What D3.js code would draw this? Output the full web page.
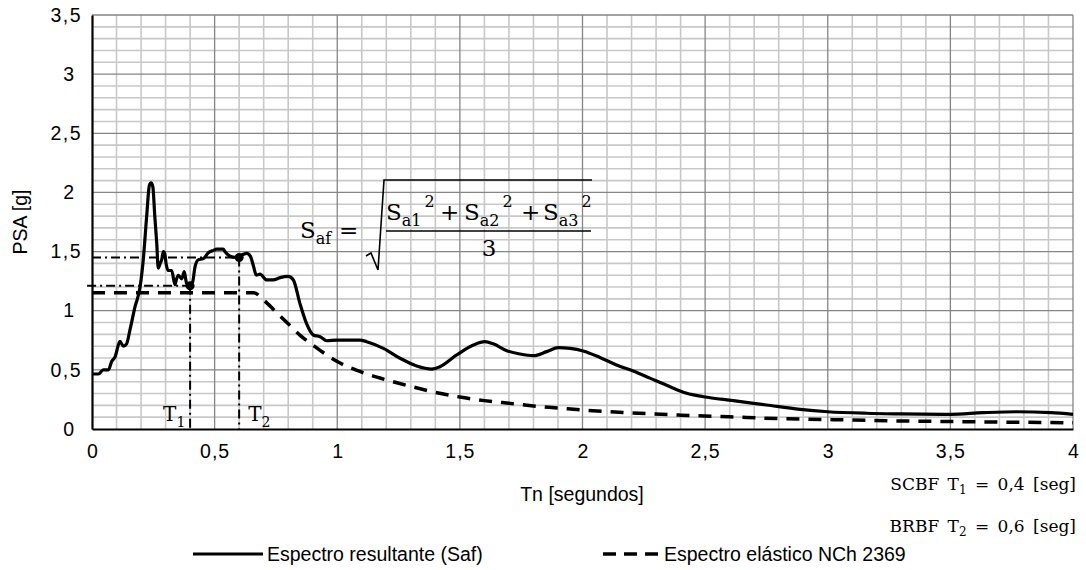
<!DOCTYPE html>
<html><head><meta charset="utf-8">
<script src="https://cdn.jsdelivr.net/npm/d3@7"></script>
<style>
body{margin:0;background:#fff;}
svg{display:block;font-family:"Liberation Sans",Arial,sans-serif;}
.serif{font-family:"DejaVu Serif","Liberation Serif",serif;}
</style></head>
<body><svg id="c" width="1086" height="570"></svg>
<script>
// ---- data ----
const xTicks = [0,0.5,1,1.5,2,2.5,3,3.5,4];
const yTicks = [0,0.5,1,1.5,2,2.5,3,3.5];
const safT = [0,0.026,0.046,0.067,0.080,0.094,0.114,0.128,0.141,0.155,0.175,0.196,0.209,0.223,0.234,0.241,0.248,0.256,0.264,0.270,0.278,0.284,0.291,0.297,0.302,0.311,0.325,0.338,0.345,0.352,0.366,0.376,0.386,0.397,0.41,0.42,0.433,0.454,0.474,0.495,0.508,0.522,0.535,0.542,0.563,0.587,0.61,0.631,0.646,0.658,0.670,0.685,0.712,0.739,0.767,0.80,0.821,0.848,0.875,0.902,0.93,0.957,0.998,1.093,1.12,1.188,1.256,1.324,1.385,1.419,1.487,1.555,1.602,1.636,1.691,1.745,1.80,1.854,1.901,1.949,2.003,2.071,2.139,2.207,2.275,2.343,2.425,2.493,2.615,2.75,2.887,3.0,3.159,3.295,3.5,3.634,3.77,3.91,4.0];
const safV = [0.465,0.465,0.50,0.50,0.57,0.61,0.74,0.70,0.72,0.84,1.03,1.20,1.43,1.80,2.06,2.08,2.05,1.80,1.57,1.36,1.40,1.43,1.50,1.48,1.40,1.34,1.34,1.22,1.27,1.30,1.27,1.33,1.23,1.21,1.24,1.37,1.43,1.44,1.49,1.51,1.52,1.52,1.52,1.50,1.46,1.45,1.47,1.485,1.46,1.38,1.30,1.31,1.26,1.26,1.28,1.29,1.26,1.06,0.89,0.795,0.78,0.746,0.752,0.752,0.738,0.682,0.598,0.533,0.507,0.527,0.626,0.71,0.738,0.72,0.662,0.634,0.62,0.654,0.688,0.682,0.66,0.605,0.541,0.49,0.43,0.37,0.302,0.273,0.24,0.203,0.166,0.146,0.133,0.128,0.124,0.138,0.146,0.138,0.124];
const elaT = [0,0.66,0.70,0.75,0.80,0.85,0.9,1.0,1.1,1.2,1.3,1.4,1.5,1.6,1.7,1.8,1.9,2.0,2.2,2.4,2.6,2.8,3.0,3.3,3.6,4.0];
const elaV = [1.152,1.152,1.09,0.99,0.89,0.79,0.71,0.57,0.48,0.415,0.36,0.31,0.27,0.24,0.217,0.195,0.178,0.16,0.136,0.117,0.103,0.088,0.08,0.068,0.061,0.052];
const periodT = [0.4, 0.6];     // T1, T2
const periodS = [1.21, 1.45];   // Saf at T1, T2
const seriesNames = ["Espectro resultante (Saf)", "Espectro elástico NCh 2369"];

// ---- layout ----
const W=1086,H=570, m={l:92,t:15,r:13,b:141};
const svg=d3.select("#c");
const x=d3.scaleLinear().domain([0,4]).range([m.l,W-m.r]);
const y=d3.scaleLinear().domain([0,3.5]).range([H-m.b,m.t]);
const fmt=v=>String(v).replace(".",",");
const AF=19.5;

// minor grid
const g=svg.append("g");
g.selectAll("line.mx").data(d3.range(0,41).map(i=>i/10).filter(v=>Math.abs(v*2-Math.round(v*2))>1e-6))
 .join("line").attr("x1",d=>x(d)).attr("x2",d=>x(d)).attr("y1",y(0)).attr("y2",y(3.5))
 .attr("stroke","#c8c8c8").attr("stroke-width",1.6);
g.selectAll("line.my").data(d3.range(0,36).map(i=>i/10).filter(v=>Math.abs(v*2-Math.round(v*2))>1e-6))
 .join("line").attr("y1",d=>y(d)).attr("y2",d=>y(d)).attr("x1",x(0)).attr("x2",x(4))
 .attr("stroke","#c8c8c8").attr("stroke-width",1.6);
// major grid
g.selectAll("line.Mx").data(xTicks.slice(1)).join("line")
 .attr("x1",d=>x(d)).attr("x2",d=>x(d)).attr("y1",y(0)).attr("y2",y(3.5)).attr("stroke","#858585").attr("stroke-width",1.3);
g.selectAll("line.My").data(yTicks.slice(1)).join("line")
 .attr("y1",d=>y(d)).attr("y2",d=>y(d)).attr("x1",x(0)).attr("x2",x(4)).attr("stroke","#858585").attr("stroke-width",1.3);

// axes
const xa=svg.append("g").attr("transform",`translate(0,${y(0)})`)
 .call(d3.axisBottom(x).tickValues(xTicks).tickFormat(fmt).tickSize(0).tickPadding(15));
const ya=svg.append("g").attr("transform",`translate(${x(0)},0)`)
 .call(d3.axisLeft(y).tickValues(yTicks).tickFormat(fmt).tickSize(0).tickPadding(10));
[xa,ya].forEach(a=>{a.select(".domain").attr("stroke","#000").attr("stroke-width",2.2);
 a.selectAll("text").attr("font-size",AF).attr("fill","#000").attr("font-family","Liberation Sans, Arial, sans-serif");});
ya.selectAll("text").attr("dx",d=>Number.isInteger(d)?-8:0);
xa.selectAll("text").attr("letter-spacing",d=>Number.isInteger(d)?0:1);
ya.selectAll("text").attr("letter-spacing",d=>Number.isInteger(d)?0:1.5);

// titles
svg.append("text").attr("x",582).attr("y",501).attr("text-anchor","middle").attr("font-size",AF).text("Tn [segundos]");
svg.append("text").attr("transform",`translate(27,222) rotate(-90)`).attr("text-anchor","middle").attr("font-size",AF).text("PSA [g]");

// elastic dashed
svg.append("path").datum(elaT.map((t,i)=>[t,elaV[i]])).attr("d",d3.line().x(d=>x(d[0])).y(d=>y(d[1])).curve(d3.curveMonotoneX))
 .attr("fill","none").attr("stroke","#000").attr("stroke-width",3.5).attr("stroke-dasharray","13,9");

// reference dash-dot lines
const dd="9,4,2,4";
periodT.forEach((t,i)=>{
  svg.append("line").attr("x1",x(i===0?-0.02:0)).attr("x2",x(t)).attr("y1",y(periodS[i])).attr("y2",y(periodS[i]))
   .attr("stroke","#000").attr("stroke-width",2).attr("stroke-dasharray",dd);
  svg.append("line").attr("x1",x(t)).attr("x2",x(t)).attr("y1",y(periodS[i])).attr("y2",y(0))
   .attr("stroke","#000").attr("stroke-width",2).attr("stroke-dasharray",dd);
});

// resultant solid
svg.append("path").datum(safT.map((t,i)=>[t,safV[i]])).attr("d",d3.line().x(d=>x(d[0])).y(d=>y(d[1])).curve(d3.curveMonotoneX))
 .attr("fill","none").attr("stroke","#000").attr("stroke-width",3.2).attr("stroke-linejoin","round");

// markers
svg.selectAll("circle.mk").data(periodT).join("circle").attr("cx",d=>x(d)).attr("cy",(d,i)=>y(periodS[i])).attr("r",4.5).attr("fill","#000");

// T labels
function sub(sel,main,s,size,ssize){sel.append("tspan").text(main);sel.append("tspan").attr("font-size",ssize).attr("dy",size*0.28).text(s);}
const t1=svg.append("text").attr("class","serif").attr("x",x(periodT[0])-27).attr("y",421).attr("font-size",20); sub(t1,"T","1",20,14);
const t2=svg.append("text").attr("class","serif").attr("x",x(periodT[1])+9).attr("y",421).attr("font-size",20); sub(t2,"T","2",20,14);

// formula
const F=svg.append("g").attr("class","serif");
const fs=23, ss=16;
function Sx(xp,yp,s,sup){const t=F.append("text").attr("x",xp).attr("y",yp).attr("font-size",fs);
  t.append("tspan").text("S"); t.append("tspan").attr("font-size",ss).attr("dy",6).text(s);
  if(sup){t.append("tspan").attr("font-size",ss).attr("dx",3).attr("dy",-19).text("2");}
}
Sx(300,238,"af",false);
F.append("text").attr("x",339).attr("y",238).attr("font-size",fs).text("=");
F.append("path").attr("d","M366,256 L371,253 L378,270 L384,180 L592,180").attr("fill","none").attr("stroke","#000").attr("stroke-width",1.6);
Sx(386,220,"a1",true);
F.append("text").attr("x",440).attr("y",220).attr("font-size",fs).text("+");
Sx(464,220,"a2",true);
F.append("text").attr("x",521).attr("y",220).attr("font-size",fs).text("+");
Sx(543,220,"a3",true);
F.append("line").attr("x1",386).attr("x2",591).attr("y1",231).attr("y2",231).attr("stroke","#000").attr("stroke-width",1.6);
F.append("text").attr("x",489).attr("y",256).attr("text-anchor","middle").attr("font-size",fs).text("3");

// period notes
function note(yp,pre,s,post){const t=svg.append("text").attr("class","serif").attr("x",1076).attr("y",yp).attr("text-anchor","end").attr("font-size",17).attr("word-spacing",3);
  t.append("tspan").text(pre); t.append("tspan").attr("font-size",12).attr("dy",4).text(s); t.append("tspan").attr("dy",-4).text(post);}
note(490,"SCBF T","1"," = 0,4 [seg]");
note(532,"BRBF T","2"," = 0,6 [seg]");

// legend
const L=svg.append("g");
L.append("line").attr("x1",193).attr("x2",263).attr("y1",554).attr("y2",554).attr("stroke","#000").attr("stroke-width",3.2);
L.append("text").attr("x",267).attr("y",561).attr("font-size",AF).text(seriesNames[0]);
L.append("line").attr("x1",603).attr("x2",659).attr("y1",554).attr("y2",554).attr("stroke","#000").attr("stroke-width",3.5).attr("stroke-dasharray","13,8");
L.append("text").attr("x",664).attr("y",561).attr("font-size",AF).text(seriesNames[1]);
</script></body></html>
